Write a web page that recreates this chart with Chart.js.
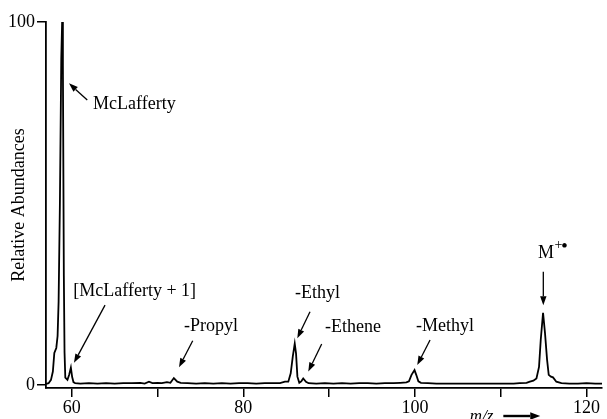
<!DOCTYPE html>
<html>
<head>
<meta charset="utf-8">
<script src="https://cdn.jsdelivr.net/npm/chart.js@4/dist/chart.umd.min.js"></script>
<style>
  html, body { margin: 0; padding: 0; background: #ffffff; }
  #wrap { width: 607px; height: 419px; position: relative; }
</style>
</head>
<body>
<div id="wrap"><canvas id="c"></canvas></div>
<script>
// ---- Data ----
const mz = [
  57.0, 57.3, 57.58, 57.8, 57.97, 58.2, 58.35, 58.47, 58.62, 58.78, 58.88, 58.97, 59.08, 59.16, 59.25, 59.5, 59.7, 59.9, 60.05, 60.2, 60.4,
  61, 62, 63, 64, 65, 66, 67, 68, 68.5, 69, 69.4, 70, 70.5, 71.1, 71.5, 71.9, 72.3, 72.7, 73.5, 74.5, 75.5, 76.5, 77.5, 78.5, 79.5,
  80.5, 81.5, 82.5, 83.5, 84.27, 84.85, 85.24, 85.52, 85.76, 85.99, 86.14, 86.3, 86.52, 86.75, 86.98, 87.3, 87.6,
  88.5, 89.5, 90.5, 91.5, 92.5, 93.5, 94.5, 95.5, 96.5, 97.5, 98.3, 99.0, 99.3, 99.6, 99.95, 100.15, 100.4, 100.7,
  101.5, 102.5, 103.5, 104.5, 105.5, 106.5, 107.5, 108.5, 109.5, 110.5, 111.5, 112.2, 113.0, 113.4, 113.8,
  114.16, 114.46, 114.66, 114.93, 115.16, 115.4, 115.59, 115.85, 116.09, 116.48, 117.07, 118, 119, 120, 121, 121.8
];
const abundance = [
  0.3, 0.5, 1.4, 3.7, 8.8, 10.2, 13.5, 23, 50, 90, 100, 88, 30, 9, 2.0, 1.4, 2.8, 4.8, 2.2, 0.8, 0.5,
  0.4, 0.5, 0.4, 0.5, 0.4, 0.5, 0.5, 0.6, 0.4, 0.9, 0.5, 0.6, 0.5, 0.8, 0.6, 1.9, 0.9, 0.6, 0.5, 0.4, 0.5, 0.4, 0.5, 0.4, 0.5,
  0.5, 0.4, 0.5, 0.5, 0.5, 0.9, 0.9, 3.2, 7.8, 11.4, 8.7, 2.3, 0.6, 1.0, 1.8, 0.9, 0.5,
  0.4, 0.5, 0.4, 0.5, 0.4, 0.5, 0.5, 0.4, 0.5, 0.5, 0.6, 0.7, 1.0, 2.8, 4.1, 2.8, 1.0, 0.6,
  0.5, 0.4, 0.4, 0.4, 0.4, 0.4, 0.4, 0.4, 0.4, 0.4, 0.4, 0.5, 0.6, 0.9, 1.2,
  1.8, 5.0, 12.4, 19.9, 14.2, 6.9, 2.8, 2.3, 2.1, 0.9, 0.5, 0.4, 0.4, 0.5, 0.4, 0.4
];
const xTickValues = [60, 70, 80, 90, 100, 110, 120];
const xTickLabels = ['60', '', '80', '', '100', '', '120'];
const yTickValues = [0, 100];
const yTickLabels = ['0', '100'];
const yAxisTitle = 'Relative Abundances';
const xAxisTitle = 'm/z';

// ---- Annotations (labels and arrow anchors, in data units) ----
const annLabels   = ['McLafferty', '[McLafferty + 1]', '-Propyl', '-Ethyl', '-Ethene', '-Methyl', 'M'];
const annTextMz   = [62.48, 60.18, 73.08, 86.02, 89.52, 100.12, 114.34];
const annTextVal  = [77.4, 25.9, 16.25, 25.3, 16.0, 16.25, 36.2];
const annTailMz   = [61.81, 63.88, 74.10, 87.77, 89.13, 101.76, 114.96];
const annTailVal  = [78.5, 22.0, 12.2, 20.2, 11.3, 12.4, 31.2];
const annHeadMz   = [59.68, 60.26, 72.50, 86.29, 87.57, 100.27, 114.96];
const annHeadVal  = [83.1, 6.1, 4.9, 12.9, 3.7, 5.5, 22.0];
// x-axis title position and its arrow (data units along x)
const xTitleMz = 106.4;
const xArrowFromMz = 110.3;
const xArrowToMz = 114.6;

const SERIF = '"Liberation Serif", "Times New Roman", serif';

function drawArrow(ctx, x1, y1, x2, y2, headLen, headHalf, lw) {
  const ang = Math.atan2(y2 - y1, x2 - x1);
  const bx = x2 - headLen * Math.cos(ang), by = y2 - headLen * Math.sin(ang);
  ctx.beginPath();
  ctx.moveTo(x1, y1);
  ctx.lineTo(bx, by);
  ctx.lineWidth = lw;
  ctx.strokeStyle = '#000';
  ctx.stroke();
  ctx.beginPath();
  ctx.moveTo(x2, y2);
  ctx.lineTo(bx + headHalf * Math.sin(ang), by - headHalf * Math.cos(ang));
  ctx.lineTo(bx - headHalf * Math.sin(ang), by + headHalf * Math.cos(ang));
  ctx.closePath();
  ctx.fillStyle = '#000';
  ctx.fill();
}

const annotationPlugin = {
  id: 'annotations',
  afterDraw(chart) {
    const ctx = chart.ctx;
    const xs = chart.scales.x, ys = chart.scales.y;
    ctx.save();
    ctx.fillStyle = '#000';
    ctx.textBaseline = 'middle';
    ctx.textAlign = 'left';
    for (let i = 0; i < annLabels.length; i++) {
      const tx = xs.getPixelForValue(annTextMz[i]);
      const ty = ys.getPixelForValue(annTextVal[i]);
      ctx.font = '18px ' + SERIF;
      ctx.fillStyle = '#000';
      ctx.fillText(annLabels[i], tx, ty);
      if (annLabels[i] === 'M') {
        const w = ctx.measureText('M').width;
        ctx.font = '14px ' + SERIF;
        ctx.fillText('+', tx + w + 0.5, ty - 8);
        ctx.font = 'bold 17px ' + SERIF;
        ctx.fillText('\u2022', tx + w + 7.5, ty - 7);
      }
      drawArrow(ctx,
        xs.getPixelForValue(annTailMz[i]), ys.getPixelForValue(annTailVal[i]),
        xs.getPixelForValue(annHeadMz[i]), ys.getPixelForValue(annHeadVal[i]),
        9, 3.2, 1.3);
    }
    // x-axis title "m/z" with arrow, bottom right (partly cut by the picture edge)
    ctx.font = 'italic 17px ' + SERIF;
    ctx.textBaseline = 'alphabetic';
    ctx.fillText(xAxisTitle, xs.getPixelForValue(xTitleMz), 421);
    drawArrow(ctx, xs.getPixelForValue(xArrowFromMz), 416, xs.getPixelForValue(xArrowToMz), 416, 10, 3.8, 2.4);
    ctx.restore();
  }
};

const ctx = document.getElementById('c').getContext('2d');
new Chart(ctx, {
  type: 'scatter',
  data: {
    datasets: [{
      data: mz.map((m, i) => ({ x: m, y: abundance[i] })),
      showLine: true,
      borderColor: '#000',
      borderWidth: 1.8,
      pointRadius: 0,
      pointHoverRadius: 0,
      tension: 0,
      fill: false
    }]
  },
  options: {
    responsive: true,
    maintainAspectRatio: false,
    animation: false,
    events: [],
    layout: { padding: { top: 22, right: 5, left: 0, bottom: 0 } },
    plugins: { legend: { display: false }, tooltip: { enabled: false } },
    scales: {
      x: {
        type: 'linear',
        min: 57,
        max: 121.8,
        afterBuildTicks: (s) => { s.ticks = xTickValues.map(v => ({ value: v })); },
        afterFit: (s) => { s.height = 31; },
        ticks: {
          autoSkip: false,
          maxRotation: 0,
          padding: 0,
          color: '#000',
          font: { family: SERIF, size: 18 },
          callback: (v) => { const k = xTickValues.indexOf(v); return k >= 0 ? xTickLabels[k] : ''; }
        },
        grid: { drawOnChartArea: false, drawTicks: true, tickLength: 9, color: '#000', lineWidth: 1.5 },
        border: { display: true, color: '#000', width: 1.8 }
      },
      y: {
        type: 'linear',
        min: -0.83,
        max: 100,
        afterBuildTicks: (s) => { s.ticks = yTickValues.map(v => ({ value: v })); },
        afterFit: (s) => { s.width = 46; },
        ticks: {
          autoSkip: false,
          padding: 2,
          color: '#000',
          font: { family: SERIF, size: 18 },
          callback: (v) => { const k = yTickValues.indexOf(v); return k >= 0 ? yTickLabels[k] : ''; }
        },
        title: {
          display: true,
          text: yAxisTitle,
          color: '#000',
          font: { family: SERIF, size: 18 },
          padding: { top: 8, bottom: 0 }
        },
        grid: { drawOnChartArea: false, drawTicks: true, tickLength: 9, color: '#000', lineWidth: 1.5 },
        border: { display: true, color: '#000', width: 1.8 }
      }
    }
  },
  plugins: [annotationPlugin]
});
</script>
</body>
</html>
